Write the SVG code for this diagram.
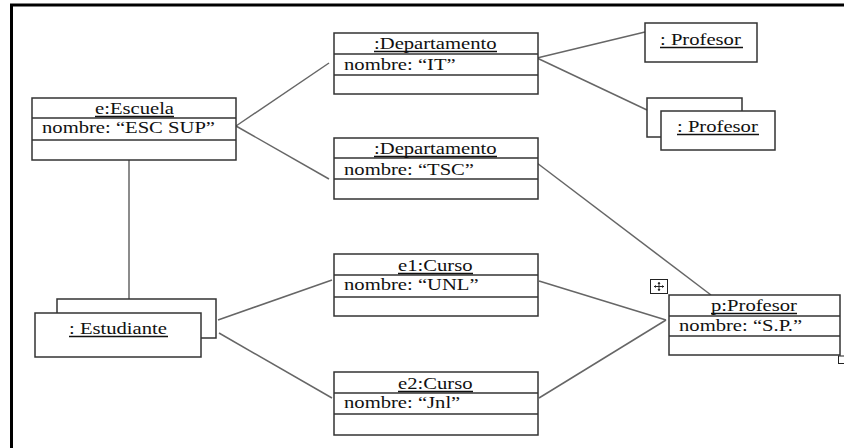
<svg xmlns="http://www.w3.org/2000/svg" width="844" height="448" viewBox="0 0 844 448">
  <style>
    .box { fill: #fff; stroke: #333; stroke-width: 1.5; }
    .div { stroke: #333; stroke-width: 1.5; }
    .link { stroke: #666; stroke-width: 1.5; fill: none; }
    .t { font-family: 'Liberation Serif', 'Times New Roman', serif; font-size: 16px; fill: #111; }
    .ul { stroke: #111; stroke-width: 1.3; }
    .frame { stroke: #000; stroke-width: 3; fill: none; }
  </style>

  <!-- page frame (top and left edges) -->
  <path class="frame" d="M11.5 448 V5 H844"/>

  <!-- links between objects -->
  <g id="connectors">
    <line class="link" x1="129" y1="160" x2="129" y2="299"/>
    <line class="link" x1="236" y1="126" x2="329" y2="63"/>
    <line class="link" x1="236" y1="126" x2="329" y2="179"/>
    <line class="link" x1="537" y1="58" x2="645" y2="32"/>
    <line class="link" x1="537" y1="58" x2="647" y2="110"/>
    <line class="link" x1="537" y1="163" x2="711" y2="295"/>
    <line class="link" x1="218" y1="320" x2="332" y2="280"/>
    <line class="link" x1="219" y1="333" x2="332" y2="398"/>
    <line class="link" x1="539" y1="281" x2="666" y2="320"/>
    <line class="link" x1="539" y1="398" x2="666" y2="320"/>
  </g>

  <!-- text is widened 1.29x to the wide Times look of the original tool -->
  <g id="escuela">
    <rect class="box" x="32" y="98" width="204" height="62"/>
    <line class="div" x1="32" y1="118" x2="236" y2="118"/>
    <line class="div" x1="32" y1="140" x2="236" y2="140"/>
    <text class="t" transform="translate(95 114) scale(1.29 1)">e:Escuela</text>
    <line class="ul" x1="95" y1="116.5" x2="174" y2="116.5"/>
    <text class="t" transform="translate(42 133) scale(1.29 1)">nombre: “ESC SUP”</text>
  </g>

  <g id="departamento-it">
    <rect class="box" x="334" y="33" width="204" height="61"/>
    <line class="div" x1="334" y1="54" x2="538" y2="54"/>
    <line class="div" x1="334" y1="75" x2="538" y2="75"/>
    <text class="t" transform="translate(374 49) scale(1.29 1)">:Departamento</text>
    <line class="ul" x1="374" y1="51.5" x2="497" y2="51.5"/>
    <text class="t" transform="translate(344 70) scale(1.29 1)">nombre: “IT”</text>
  </g>

  <g id="departamento-tsc">
    <rect class="box" x="334" y="138" width="204" height="61"/>
    <line class="div" x1="334" y1="158" x2="538" y2="158"/>
    <line class="div" x1="334" y1="179" x2="538" y2="179"/>
    <text class="t" transform="translate(374 154) scale(1.29 1)">:Departamento</text>
    <line class="ul" x1="374" y1="156.5" x2="497" y2="156.5"/>
    <text class="t" transform="translate(344 175) scale(1.29 1)">nombre: “TSC”</text>
  </g>

  <g id="profesor-1">
    <rect class="box" x="645" y="23" width="112" height="39"/>
    <text class="t" transform="translate(660 45) scale(1.29 1)">: Profesor</text>
    <line class="ul" x1="660" y1="47.5" x2="743" y2="47.5"/>
  </g>

  <g id="profesores">
    <rect class="box" x="647" y="98" width="95" height="39"/>
    <rect class="box" x="661" y="111" width="114" height="39"/>
    <text class="t" transform="translate(677 132) scale(1.29 1)">: Profesor</text>
    <line class="ul" x1="677" y1="134.5" x2="759" y2="134.5"/>
  </g>

  <g id="estudiantes">
    <rect class="box" x="57" y="299" width="159" height="39"/>
    <rect class="box" x="35" y="313" width="166" height="44"/>
    <text class="t" transform="translate(69 334) scale(1.29 1)">: Estudiante</text>
    <line class="ul" x1="69" y1="336.5" x2="168" y2="336.5"/>
  </g>

  <g id="curso-e1">
    <rect class="box" x="334" y="254" width="204" height="62"/>
    <line class="div" x1="334" y1="275" x2="538" y2="275"/>
    <line class="div" x1="334" y1="297" x2="538" y2="297"/>
    <text class="t" transform="translate(398 271) scale(1.29 1)">e1:Curso</text>
    <line class="ul" x1="398" y1="273.5" x2="473" y2="273.5"/>
    <text class="t" transform="translate(344 290) scale(1.29 1)">nombre: “UNL”</text>
  </g>

  <g id="curso-e2">
    <rect class="box" x="334" y="372" width="204" height="63"/>
    <line class="div" x1="334" y1="393" x2="538" y2="393"/>
    <line class="div" x1="334" y1="414" x2="538" y2="414"/>
    <text class="t" transform="translate(398 389) scale(1.29 1)">e2:Curso</text>
    <line class="ul" x1="398" y1="391.5" x2="473" y2="391.5"/>
    <text class="t" transform="translate(344 408) scale(1.29 1)">nombre: “Jnl”</text>
  </g>

  <g id="profesor-p">
    <rect class="box" x="669" y="295" width="171" height="60"/>
    <line class="div" x1="669" y1="316" x2="840" y2="316"/>
    <line class="div" x1="669" y1="336" x2="840" y2="336"/>
    <text class="t" transform="translate(711 311) scale(1.29 1)">p:Profesor</text>
    <line class="ul" x1="711" y1="313.5" x2="797" y2="313.5"/>
    <text class="t" transform="translate(679 331) scale(1.29 1)">nombre: “S.P.”</text>
    <!-- selection handles -->
    <rect x="650.5" y="279.5" width="17" height="14" fill="#fff" stroke="#222" stroke-width="1"/>
    <path d="M654 286.5 H664 M659 282 V291" stroke="#222" stroke-width="1"/>
    <path d="M654 286.5 l2 -1.5 v3 z M664 286.5 l-2 -1.5 v3 z M659 282 l-1.5 2 h3 z M659 291 l-1.5 -2 h3 z" fill="#222"/>
    <rect x="838.5" y="356" width="6" height="7.5" fill="#fff" stroke="#222" stroke-width="1"/>
  </g>
</svg>
